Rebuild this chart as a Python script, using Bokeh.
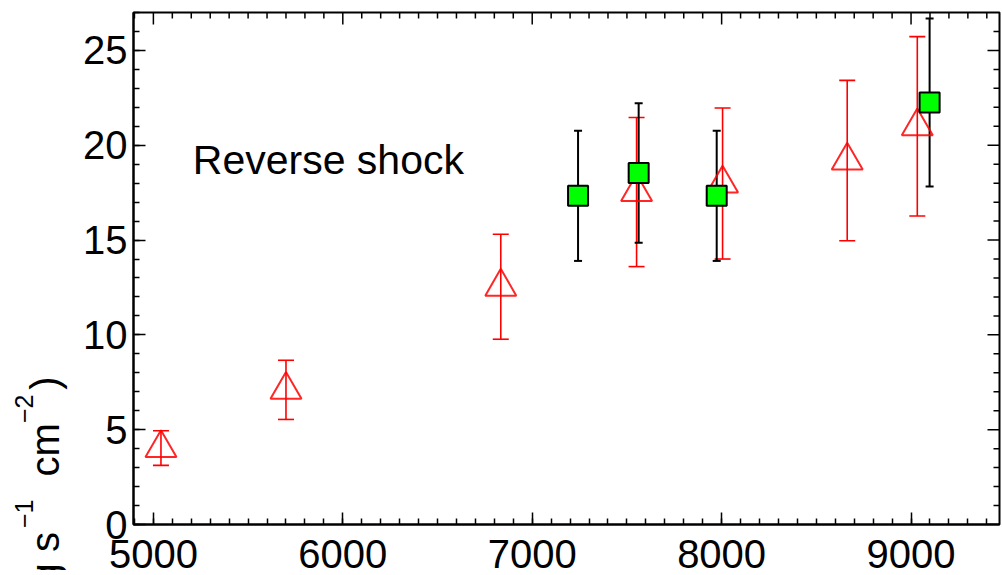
import math
from bokeh.plotting import figure
from bokeh.models import (ColumnDataSource, Range1d, LinearAxis, SingleIntervalTicker,
                          Whisker, TeeHead, Label)
from bokeh.core.properties import value
from bokeh.embed import file_html
from bokeh.resources import INLINE

# ---- data ----
tri_x = [5040, 5700, 6834, 7551, 8005, 8663, 9033]
tri_y = [4.03, 7.10, 12.54, 17.53, 17.98, 19.19, 21.0]
tri_err = [0.91, 1.56, 2.77, 3.93, 3.98, 4.23, 4.73]

sq_x = [7242, 7562, 7974, 9098]
sq_y = [17.33, 18.54, 17.33, 22.26]
sq_err = [3.43, 3.68, 3.43, 4.43]

x_ticks = [5000, 6000, 7000, 8000, 9000]
y_ticks = [0, 5, 10, 15, 20, 25]
annotation_text = "Reverse shock"

# y-axis title pieces (main text and superscripts); only the end is inside the picture
ytitle_main = ["Flux (10\u207b\u00b9\u2075 erg s", "cm", ")"]
ytitle_sup = ["\u22121", "\u22122"]

X_MIN, X_MAX = 4895, 9467
Y_MIN, Y_MAX = 0, 27.0
FONT = "Liberation Sans"

# layout helpers: canvas pixel -> data (frame: left 133, bottom 524, 866 x 512 px)
FR_L, FR_B, FR_W, FR_H = 133, 524, 866, 512


def dx(px):
    return X_MIN + (px - FR_L) * (X_MAX - X_MIN) / FR_W


def dy(py):
    return Y_MIN + (FR_B - py) * (Y_MAX - Y_MIN) / FR_H


x_minor = [v for v in range(4900, 9500, 100) if v not in x_ticks]
y_minor = [v for v in range(0, 27) if v not in y_ticks]

tri_src = ColumnDataSource(dict(x=tri_x, y=tri_y,
                                lo=[v - e for v, e in zip(tri_y, tri_err)],
                                hi=[v + e for v, e in zip(tri_y, tri_err)]))
sq_src = ColumnDataSource(dict(x=sq_x, y=sq_y,
                               lo=[v - e for v, e in zip(sq_y, sq_err)],
                               hi=[v + e for v, e in zip(sq_y, sq_err)]))

p = figure(frame_width=FR_W, frame_height=FR_H,
           x_range=Range1d(X_MIN, X_MAX), y_range=Range1d(Y_MIN, Y_MAX),
           output_backend="svg", toolbar_location=None,
           x_axis_location=None, y_axis_location=None,
           min_border_left=FR_L, min_border_top=12, min_border_right=3, min_border_bottom=0)
p.outline_line_color = "black"
p.outline_line_width = 2
p.xgrid.visible = False
p.ygrid.visible = False
p.background_fill_color = "white"
p.border_fill_color = "white"

xt = SingleIntervalTicker(interval=1000, num_minor_ticks=10)
yt = SingleIntervalTicker(interval=5, num_minor_ticks=5)


def style(ax):
    ax.axis_line_color = "black"
    ax.axis_line_width = 2
    ax.major_tick_line_color = "black"
    ax.major_tick_line_width = 1.5
    ax.minor_tick_line_color = "black"
    ax.minor_tick_line_width = 1.5
    ax.major_tick_in = 12
    ax.major_tick_out = 0
    ax.minor_tick_in = 6
    ax.minor_tick_out = 0
    ax.major_label_text_font = FONT
    ax.major_label_text_font_size = "40px"
    ax.major_label_text_color = "black"


bottom = LinearAxis(ticker=xt)
style(bottom)
bottom.major_label_standoff = 15
left = LinearAxis(ticker=yt)
style(left)
left.major_label_standoff = 6
p.add_layout(bottom, "below")
p.add_layout(left, "left")

# inward ticks on the top and right frame edges (mirror of the axes)
tick_kw = dict(line_color="black", line_width=1.5, length_units="screen")
p.ray(x=x_ticks, y=[Y_MAX] * len(x_ticks), length=12, angle=-math.pi / 2, **tick_kw)
p.ray(x=x_minor, y=[Y_MAX] * len(x_minor), length=6, angle=-math.pi / 2, **tick_kw)
p.ray(x=[X_MAX] * len(y_ticks), y=y_ticks, length=12, angle=math.pi, **tick_kw)
p.ray(x=[X_MAX] * len(y_minor), y=y_minor, length=6, angle=math.pi, **tick_kw)

# error bars
p.add_layout(Whisker(source=tri_src, base="x", lower="lo", upper="hi", dimension="height",
                     line_color="red", line_width=1.6,
                     lower_head=TeeHead(size=16, line_color="red", line_width=1.6),
                     upper_head=TeeHead(size=16, line_color="red", line_width=1.6)))
p.add_layout(Whisker(source=sq_src, base="x", lower="lo", upper="hi", dimension="height",
                     line_color="black", line_width=2,
                     lower_head=TeeHead(size=8, line_color="black", line_width=2),
                     upper_head=TeeHead(size=8, line_color="black", line_width=2)))

p.scatter("x", "y", source=tri_src, marker="triangle", size=31,
          fill_color=None, line_color="red", line_width=2, line_alpha=0.85)
p.scatter("x", "y", source=sq_src, marker="square", size=20,
          fill_color="#00ff00", line_color="black", line_width=2)

p.add_layout(Label(x=5208, y=19.22, text=annotation_text, text_font=FONT,
                   text_font_size="41px", text_color="black", text_baseline="alphabetic"))

# rotated y-axis title, drawn as text outside the frame (overlay level, not clipped)
ang = math.pi / 2
common = dict(angle=ang, text_font=value(FONT), text_color="black",
              text_baseline="alphabetic", level="overlay")
p.text(x=[dx(44)], y=[dy(531.6)], text=ytitle_main[:1], text_font_size="40px",
       text_align="right", **common)
p.text(x=[dx(44)] * 2, y=[dy(476), dy(389.3)], text=ytitle_main[1:], text_font_size="40px",
       text_align="left", **common)
p.text(x=[dx(23)] * 2, y=[dy(527.5), dy(422.5)], text=ytitle_sup, text_font_size="25px",
       text_align="left", **common)

open("out.html", "w").write(file_html(p, INLINE))
